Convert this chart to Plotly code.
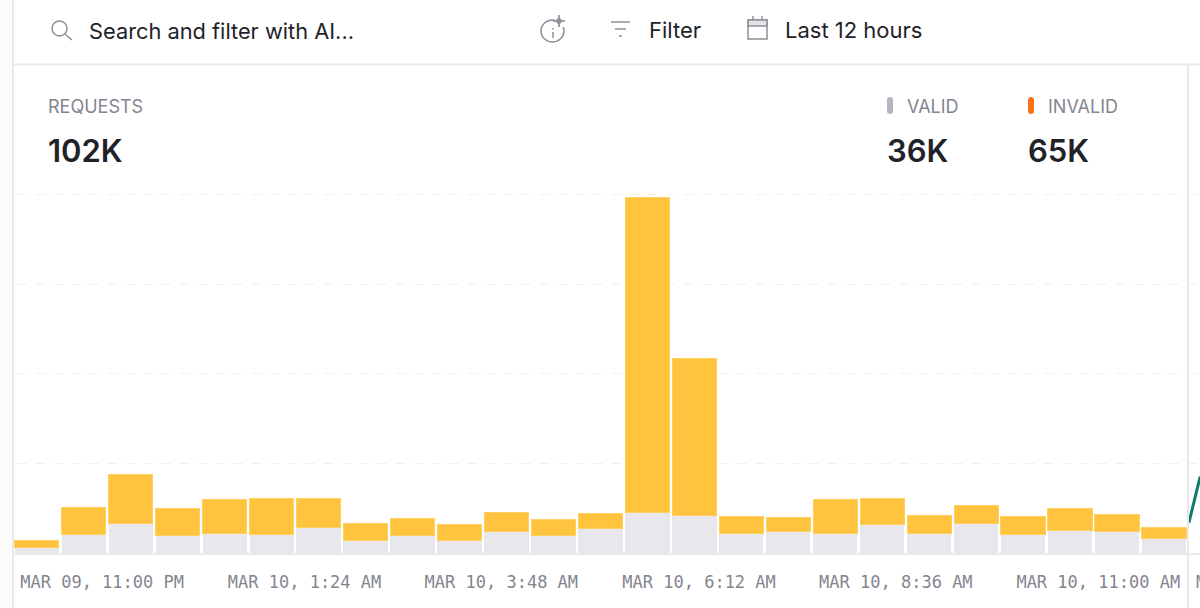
import plotly.graph_objects as go

# Requests per time bucket.
buckets = list(range(25))
valid = [380, 1230, 1990, 1190, 1290, 1230, 1740, 820, 1190, 820, 1410, 1190, 1630,
         2730, 2500, 1340, 1410, 1340, 1920, 1340, 1960, 1230, 1520, 1450, 1000]
invalid = [440, 1840, 3240, 1760, 2280, 2440, 1900, 1170, 1140, 1100, 1320, 1030, 1050,
           21060, 10500, 1090, 960, 2230, 1720, 1160, 1230, 1210, 1490, 1160, 740]

tick_labels = ["MAR 09, 11:00 PM", "MAR 10, 1:24 AM", "MAR 10, 3:48 AM",
               "MAR 10, 6:12 AM", "MAR 10, 8:36 AM", "MAR 10, 11:00 AM"]
tick_positions = [1.39, 5.70, 9.89, 14.10, 18.29, 22.60]
grid_values = [6000, 12000, 18000, 24000]

# The start of the next chart, cut off at the right edge.
next_x = [24.53, 24.77]
next_y = [2040, 5120]

WIDTH = 1200
HEIGHT = 608
BASE = 553  # pixel row of the x axis
BORDER = "#e9e9eb"
TEXT = "#1f2328"
MUTED = "#85858f"
ICON = "#8f8f98"


def xp(px):
    return px / WIDTH


def yp(py):
    return (BASE - py) / BASE


def pt(px, py):
    return f"{xp(px):.5f},{yp(py):.5f}"


def label(px, py, text, size, color=TEXT, weight=400, family="Inter"):
    return dict(x=xp(px), y=yp(py), xref="paper", yref="paper", text=text, showarrow=False,
                xanchor="left", yanchor="middle", borderpad=0,
                font=dict(family=family, size=size, color=color, weight=weight))


def line(x0, y0, x1, y1, color=ICON, width=1.5):
    return dict(type="line", xref="paper", yref="paper", x0=xp(x0), y0=yp(y0), x1=xp(x1), y1=yp(y1),
                line=dict(color=color, width=width), layer="above")


def circle(x0, y0, x1, y1, color=ICON, width=1.5):
    return dict(type="circle", xref="paper", yref="paper", x0=xp(x0), y0=yp(y0), x1=xp(x1), y1=yp(y1),
                line=dict(color=color, width=width), layer="above")


def pill(x0, y0, x1, y1, color):
    r = (x1 - x0) / 2
    path = (f"M {pt(x0, y0 + r)} Q {pt(x0, y0)} {pt(x0 + r, y0)} Q {pt(x1, y0)} {pt(x1, y0 + r)} "
            f"L {pt(x1, y1 - r)} Q {pt(x1, y1)} {pt(x0 + r, y1)} Q {pt(x0, y1)} {pt(x0, y1 - r)} Z")
    return dict(type="path", xref="paper", yref="paper", path=path, fillcolor=color,
                line=dict(width=0), layer="above")


def star(cx, cy, r, color):
    path = (f"M {pt(cx, cy - r)} Q {pt(cx, cy)} {pt(cx + r, cy)} Q {pt(cx, cy)} {pt(cx, cy + r)} "
            f"Q {pt(cx, cy)} {pt(cx - r, cy)} Q {pt(cx, cy)} {pt(cx, cy - r)} Z")
    return dict(type="path", xref="paper", yref="paper", path=path, fillcolor=color,
                line=dict(color=color, width=1), layer="above")


fig = go.Figure()
fig.add_bar(x=buckets, y=valid, name="Valid", marker=dict(color="#e8e7ec", line=dict(width=0)))
fig.add_bar(x=buckets, y=invalid, name="Invalid",
            marker=dict(color="#ffc43d", line=dict(color="#ffd062", width=1)))
fig.add_scatter(x=next_x, y=next_y, mode="lines", line=dict(color="#0b7d69", width=3), name="Next")

shapes = [
    # Panel borders.
    dict(type="rect", xref="paper", yref="paper", x0=0, x1=xp(13), y0=yp(0), y1=yp(608),
         fillcolor="#fbfbfb", line=dict(width=0), layer="above"),
    line(13, 0, 13, 608, BORDER, 2),
    line(13, 64.5, 1200, 64.5, BORDER, 2),
    line(1188, 65, 1188, 608, BORDER, 2),
    # Search icon.
    circle(52, 21, 67, 36),
    line(65, 34, 72, 40),
    # AI info icon.
    circle(541, 20, 564, 42),
    dict(type="rect", xref="paper", yref="paper", x0=xp(555), x1=xp(570), y0=yp(14), y1=yp(27),
         fillcolor="white", line=dict(width=0), layer="above"),
    star(559, 21, 6, ICON),
    line(553, 28, 553, 29.5),
    line(553, 32, 553, 38),
    # Filter icon.
    line(611, 22, 630, 22),
    line(615, 29, 626, 29),
    line(619, 36, 622, 36),
    # Calendar icon.
    dict(type="rect", xref="paper", yref="paper", x0=xp(748), x1=xp(767), y0=yp(20), y1=yp(39),
         line=dict(color=ICON, width=1.5), fillcolor="white", layer="above"),
    dict(type="rect", xref="paper", yref="paper", x0=xp(748), x1=xp(767), y0=yp(20), y1=yp(26),
         line=dict(color=ICON, width=1.5), fillcolor="#e3e3e6", layer="above"),
    line(753, 16, 753, 20),
    line(762, 16, 762, 20),
    # Legend marks.
    pill(887, 97, 893, 114, "#b4b5c2"),
    pill(1028, 97, 1034, 114, "#f97316"),
]

annotations = [
    label(87.5, 31, "Search and filter with AI...", 21.8),
    label(647.5, 29.5, "Filter", 22),
    label(784, 29.5, "Last 12 hours", 22),
    label(46.5, 106, "REQUESTS", 18, MUTED),
    label(46.5, 150, "102K", 31, weight=600),
    label(906, 106, "VALID", 18, MUTED),
    label(885.5, 150, "36K", 31, weight=600),
    label(1047, 106, "INVALID", 18, MUTED),
    label(1026.5, 150, "65K", 31, weight=600),
    label(1195, 582, "M", 17, MUTED, family="DejaVu Sans Mono"),
]

fig.update_layout(
    width=WIDTH,
    height=HEIGHT,
    autosize=False,
    margin=dict(l=0, r=0, t=0, b=HEIGHT - BASE, pad=0),
    paper_bgcolor="white",
    plot_bgcolor="white",
    barmode="stack",
    bargap=0.057,
    showlegend=False,
    shapes=shapes,
    annotations=annotations,
)
fig.update_xaxes(range=[-0.784, 24.766], tickmode="array", tickvals=tick_positions, ticktext=tick_labels,
                 showgrid=False, zeroline=False, showline=True, linecolor=BORDER, linewidth=2,
                 ticks="", ticklabelstandoff=13, tickangle=0,
                 tickfont=dict(family="DejaVu Sans Mono", size=17, color=MUTED))
fig.update_yaxes(range=[0, 37051], tickmode="array", tickvals=grid_values, showticklabels=False,
                 showgrid=True, gridcolor="#f0f0f2", griddash="dash", gridwidth=1,
                 zeroline=False, showline=False)

# Drop the page's default body margin so the chart fills the window.
fig.write_html("out.html", config={"displayModeBar": False},
               post_script="document.body.style.margin = '0';")
